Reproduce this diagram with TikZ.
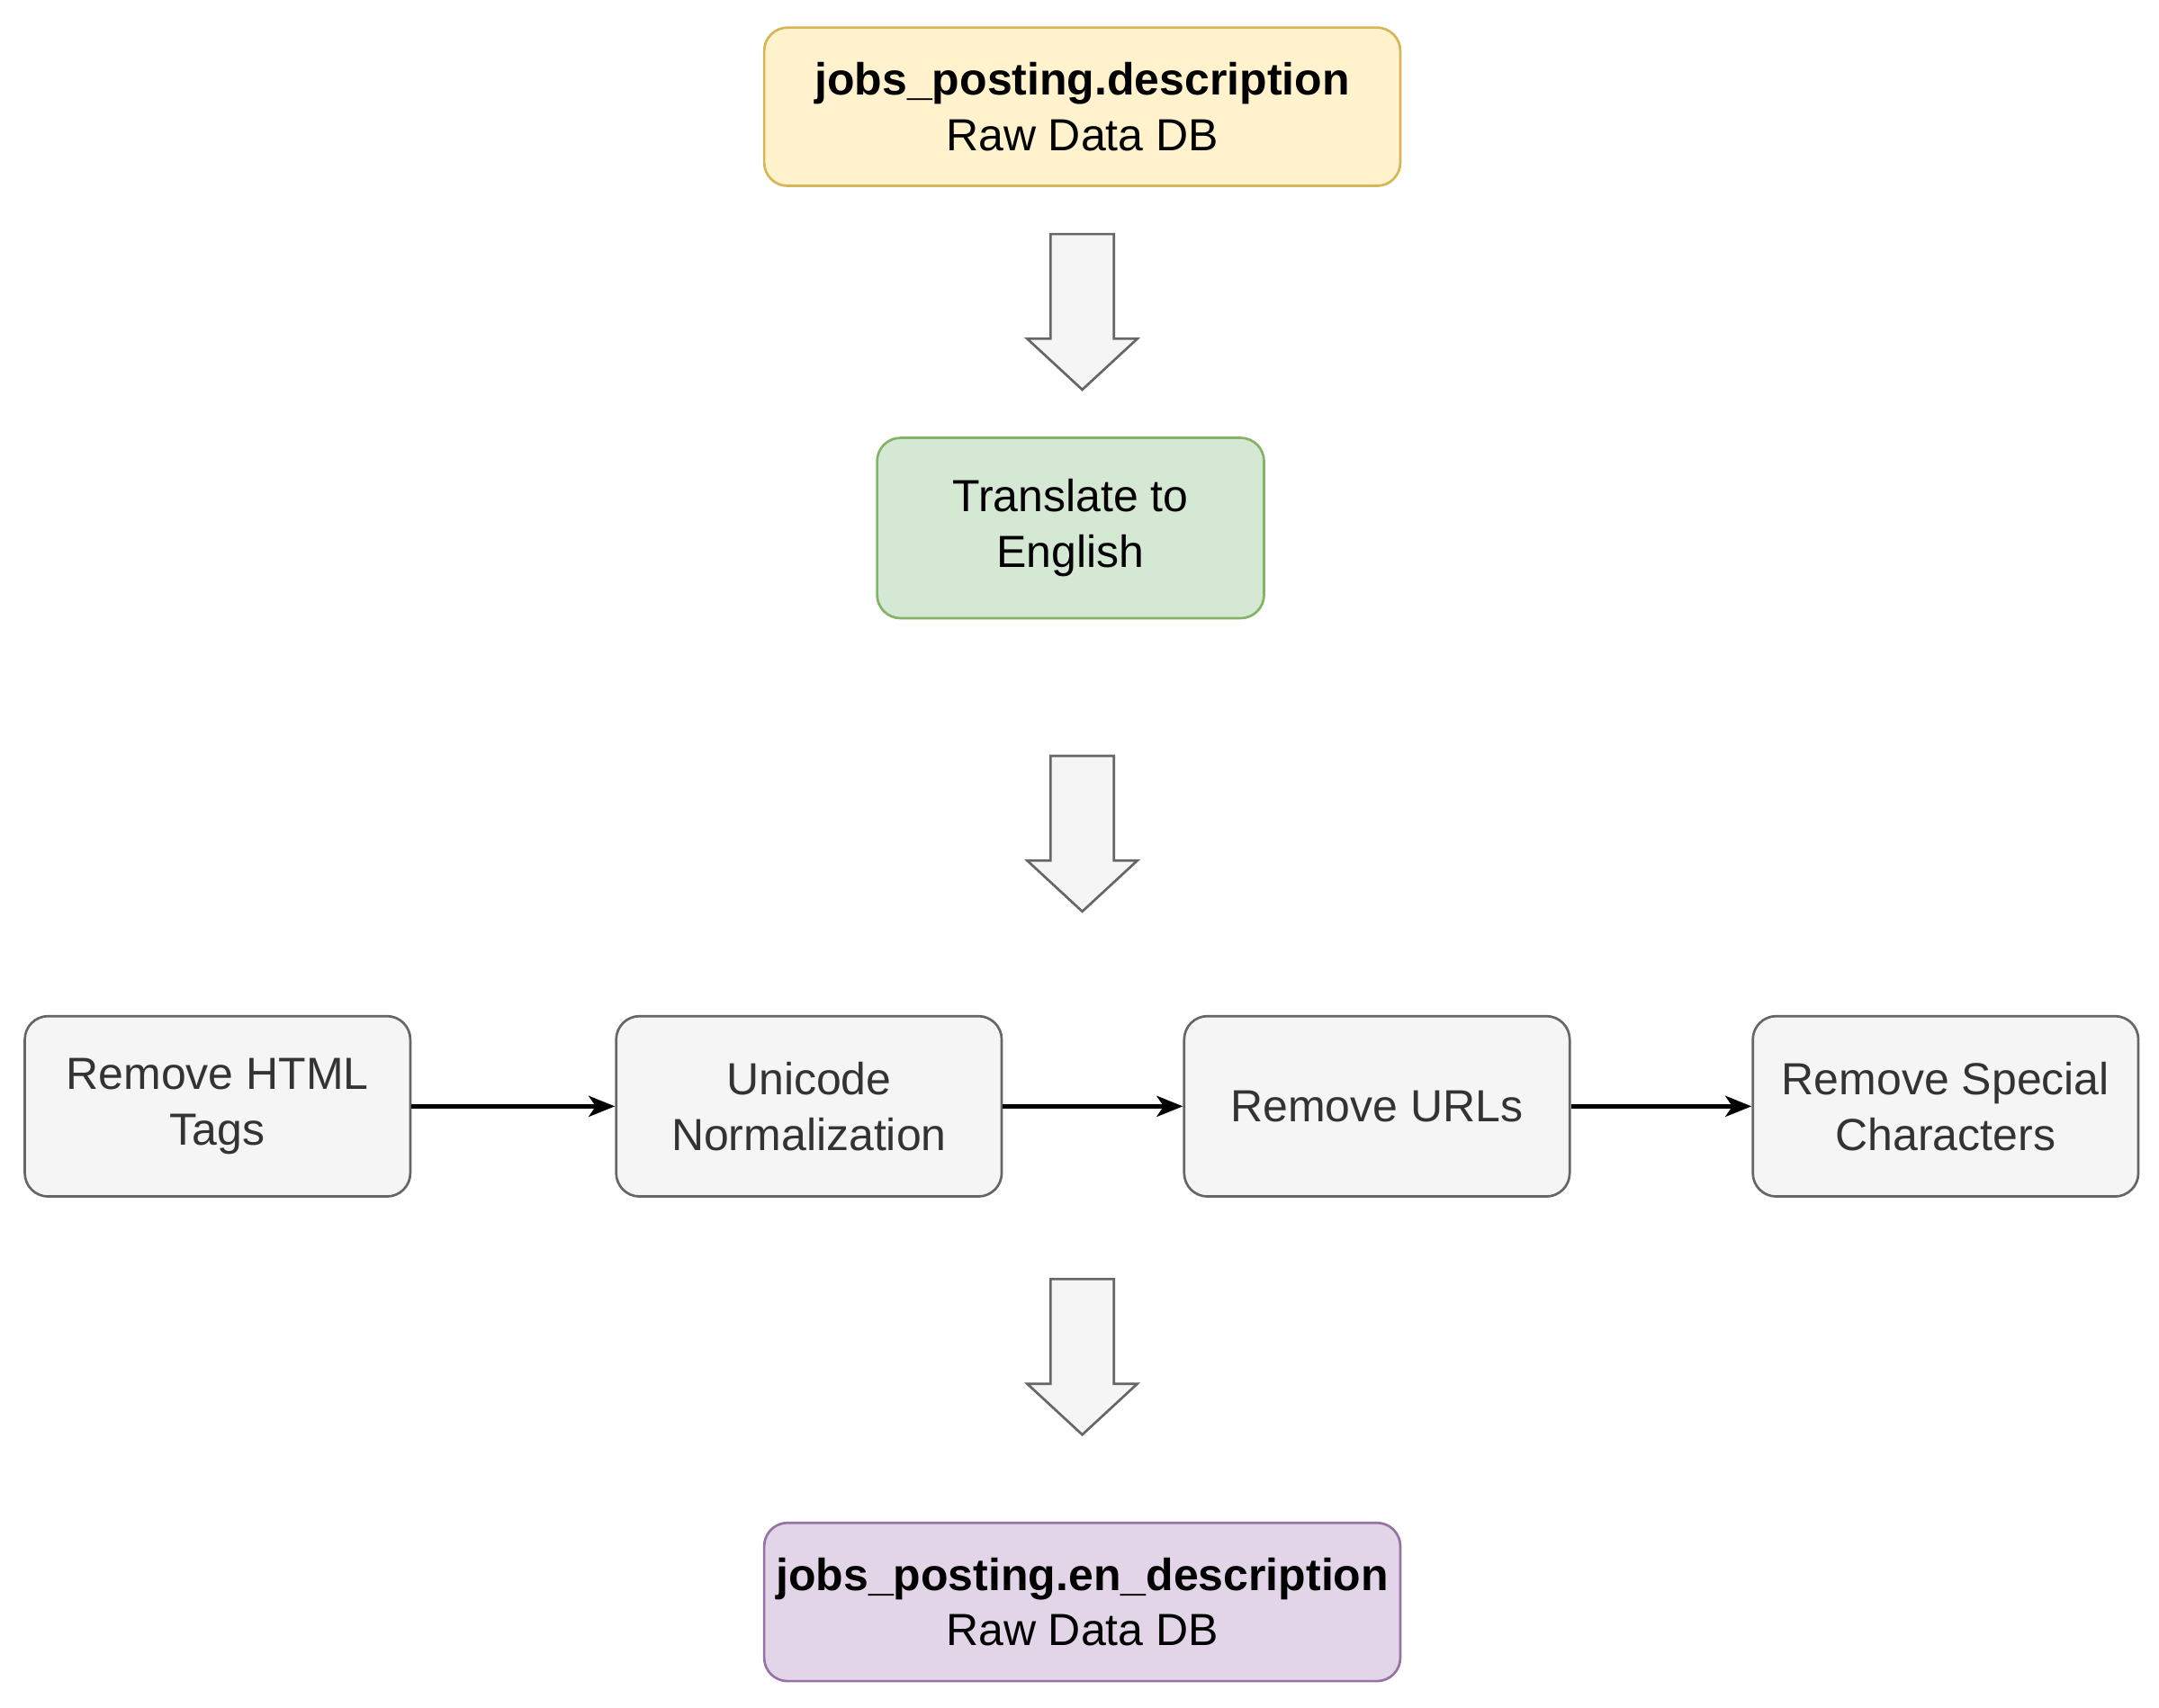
\documentclass[tikz,border=0pt]{standalone}
\usepackage{fontspec}
\setmainfont{Liberation Sans}
\usetikzlibrary{arrows.meta}

\definecolor{ylwfill}{HTML}{FFF2CC}
\definecolor{ylwline}{HTML}{D6B656}
\definecolor{grnfill}{HTML}{D5E8D4}
\definecolor{grnline}{HTML}{82B366}
\definecolor{prpfill}{HTML}{E1D5E7}
\definecolor{prpline}{HTML}{9673A6}
\definecolor{gryfill}{HTML}{F5F5F5}
\definecolor{gryline}{HTML}{666666}
\definecolor{grytext}{HTML}{333333}

\tikzset{
  box/.style={draw, rounded corners=0.17cm, line width=0.5pt, align=center, inner sep=0pt,
    font=\fontsize{9.3}{11.5}\selectfont},
  dbbox/.style={box, minimum width=4.62cm, minimum height=1.15cm},
  stepbox/.style={box, fill=gryfill, draw=gryline, text=grytext, minimum width=2.80cm, minimum height=1.31cm},
  flow/.style={line width=0.9pt, -{Stealth[length=0.19cm,width=0.15cm,inset=0.05cm]}},
  bigarrow/.style={fill=gryfill, draw=gryline, line width=0.5pt, line join=miter}
}

\begin{document}
\begin{tikzpicture}
  \useasboundingbox (0,0) rectangle (15.68,-12.40);
  % sources and targets
  \node[dbbox, fill=ylwfill, draw=ylwline] (src) at (7.86,-0.775) {\textbf{jobs\_posting.description}\\Raw Data DB};
  \node[box, fill=grnfill, draw=grnline, minimum width=2.81cm, minimum height=1.31cm] (trans) at (7.775,-3.835) {Translate to\\English};
  \node[dbbox, fill=prpfill, draw=prpline] (dst) at (7.86,-11.635) {\textbf{jobs\_posting.en\_description}\\Raw Data DB};
  % cleaning steps
  \node[stepbox] (html) at (1.58,-8.035) {Remove HTML\\Tags};
  \node[stepbox] (uni) at (5.875,-8.035) {Unicode\\Normalization};
  \node[stepbox] (url) at (10.00,-8.035) {Remove URLs};
  \node[stepbox] (spec) at (14.13,-8.035) {Remove Special\\Characters};
  \draw[flow] (html) -- (uni);
  \draw[flow] (uni) -- (url);
  \draw[flow] (url) -- (spec);
  % block arrows
  \foreach \ytop in {-1.70,-5.49,-9.29} {
    \draw[bigarrow] (7.63,\ytop) -- (8.09,\ytop) -- (8.09,\ytop-0.76) -- (8.26,\ytop-0.76)
      -- (7.86,\ytop-1.13) -- (7.46,\ytop-0.76) -- (7.63,\ytop-0.76) -- cycle;
  };
\end{tikzpicture}
\end{document}
